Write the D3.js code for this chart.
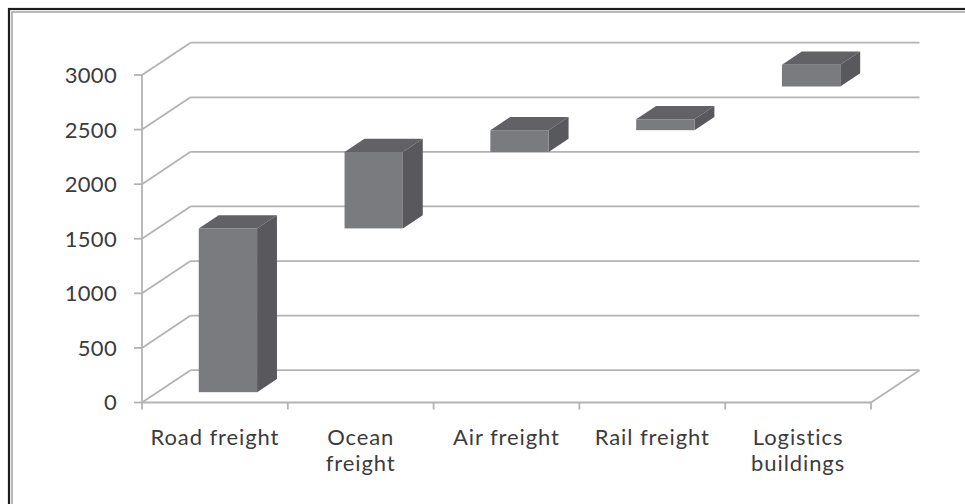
<!DOCTYPE html>
<html>
<head>
<meta charset="utf-8">
<script src="https://cdn.jsdelivr.net/npm/d3@7"></script>
<style>
  html, body { margin: 0; padding: 0; background: #ffffff; }
  svg { display: block; }
  text { font-family: Lato, "Open Sans", sans-serif; fill: #3c3c3c; }
</style>
</head>
<body>
<svg id="chart" width="965" height="504"></svg>
<script>
// Waterfall: each step floats between its base and its top
const categories = ["Road freight", "Ocean freight", "Air freight", "Rail freight", "Logistics buildings"];
const labelLines = [["Road freight"], ["Ocean", "freight"], ["Air freight"], ["Rail freight"], ["Logistics", "buildings"]];
const barBase = [0, 1500, 2200, 2400, 2800];
const barTop  = [1500, 2200, 2400, 2500, 3000];
const yTicks  = [0, 500, 1000, 1500, 2000, 2500, 3000];

const svg = d3.select("#chart");

// plot frame (front plane) and oblique depth of the 3D box
const plotLeft = 142, plotRight = 871, plotBottom = 402.5, plotTop = 75;
const depthX = 48.5, depthY = -32.3;
const barFront = 0.32, barBack = 0.73;   // depth fractions occupied by the bars
const barShift = -2.5;

const x = d3.scaleBand().domain(categories).range([plotLeft, plotRight]).paddingInner(0).paddingOuter(0);
const y = d3.scaleLinear().domain([0, 3000]).range([plotBottom, plotTop]);

const gridColor = "#b3b3b3";

// outer frame (double border running off the right/bottom edges)
svg.append("rect").attr("x", 9).attr("y", 9).attr("width", 1100).attr("height", 700)
  .attr("fill", "none").attr("stroke", "#1e1e1e").attr("stroke-width", 2.2);
svg.append("rect").attr("x", 12).attr("y", 12).attr("width", 1100).attr("height", 700)
  .attr("fill", "none").attr("stroke", "#a8a8a8").attr("stroke-width", 1.6);

const grid = svg.append("g").attr("stroke", gridColor).attr("stroke-width", 1.8).attr("fill", "none");

// side wall diagonals and back wall horizontals
yTicks.forEach(v => {
  grid.append("line")
    .attr("x1", plotLeft).attr("y1", y(v))
    .attr("x2", plotLeft + depthX).attr("y2", y(v) + depthY);
  grid.append("line")
    .attr("x1", plotLeft + depthX).attr("y1", y(v) + depthY)
    .attr("x2", plotRight + depthX).attr("y2", y(v) + depthY);
});
// floor right edge
grid.append("line")
  .attr("x1", plotRight).attr("y1", y(0))
  .attr("x2", plotRight + depthX).attr("y2", y(0) + depthY);

// bars
const bw = x.bandwidth() * 0.40;
const fx1 = depthX * barFront, fy1 = depthY * barFront;
const fx2 = depthX * barBack,  fy2 = depthY * barBack;

const bars = svg.append("g");
categories.forEach((c, i) => {
  const xl = x(c) + (x.bandwidth() - bw) / 2 + barShift;
  const xr = xl + bw;
  const yt = y(barTop[i]), yb = y(barBase[i]);
  const g = bars.append("g");
  // top face
  g.append("path")
    .attr("d", d3.line()([[xl + fx1, yt + fy1], [xr + fx1, yt + fy1], [xr + fx2, yt + fy2], [xl + fx2, yt + fy2]]) + "Z")
    .attr("fill", "#626266");
  // side face
  g.append("path")
    .attr("d", d3.line()([[xr + fx1, yt + fy1], [xr + fx2, yt + fy2], [xr + fx2, yb + fy2], [xr + fx1, yb + fy1]]) + "Z")
    .attr("fill", "#59595d");
  // front face
  g.append("rect")
    .attr("x", xl + fx1).attr("y", yt + fy1)
    .attr("width", bw).attr("height", yb - yt)
    .attr("fill", "#7a7b7f");
});

// axes
const axes = svg.append("g").attr("stroke", gridColor).attr("stroke-width", 1.8);
axes.append("line").attr("x1", plotLeft).attr("y1", y(0)).attr("x2", plotLeft).attr("y2", y(3000));
axes.append("line").attr("x1", plotLeft).attr("y1", y(0)).attr("x2", plotRight).attr("y2", y(0));
yTicks.forEach(v => {
  axes.append("line").attr("x1", plotLeft - 8).attr("x2", plotLeft).attr("y1", y(v)).attr("y2", y(v));
});
const xTickPos = categories.map(c => x(c)).concat([plotRight]);
xTickPos.forEach(p => {
  axes.append("line").attr("x1", p).attr("x2", p).attr("y1", y(0)).attr("y2", y(0) + 7);
});

// y tick labels
svg.append("g").selectAll("text").data(yTicks).join("text")
  .attr("x", 117).attr("y", d => y(d))
  .attr("dy", "0.36em")
  .attr("text-anchor", "end")
  .style("font-size", "22px")
  .style("letter-spacing", "0.3px")
  .text(d => d);

// category labels
const lab = svg.append("g");
categories.forEach((c, i) => {
  const cx = x(c) + x.bandwidth() / 2;
  const t = lab.append("text")
    .attr("x", cx)
    .attr("y", 445)
    .attr("text-anchor", "middle")
    .style("font-size", "22px")
    .style("letter-spacing", "0.9px");
  labelLines[i].forEach((line, k) => {
    t.append("tspan").attr("x", cx).attr("dy", k === 0 ? 0 : 26).text(line);
  });
});
</script>
</body>
</html>
